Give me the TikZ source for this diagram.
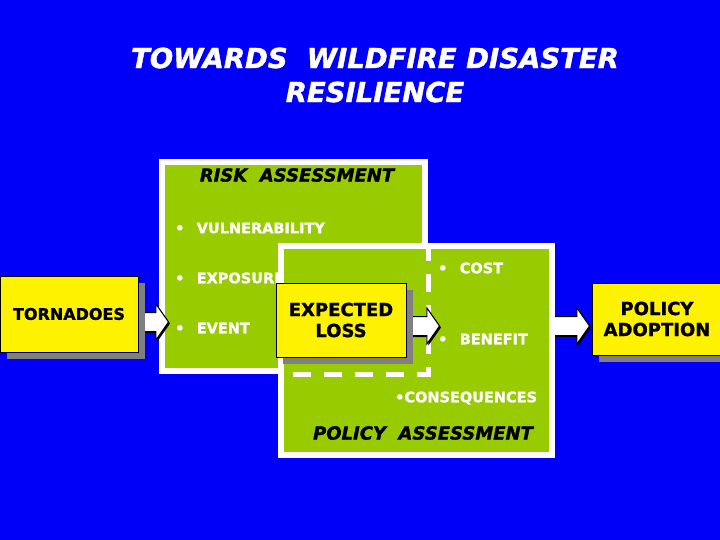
\documentclass[tikz,border=0pt]{standalone}
\usepackage{fontspec}
\setmainfont{DejaVu Sans}[BoldFeatures={FakeBold=1.2}, BoldItalicFeatures={FakeBold=1.5}]
\usetikzlibrary{shapes.arrows,shadows}

\definecolor{slideblue}{RGB}{0,0,250}
\definecolor{panelgreen}{RGB}{153,204,0}
\definecolor{shadegray}{RGB}{128,128,128}

\tikzset{
  panel/.style={draw=white, fill=panelgreen, line width=6pt, inner sep=0pt},
  yellowbox/.style={draw=black, fill=yellow, line width=0.8pt, align=center, inner sep=0pt,
    font=\bfseries\fontsize{18}{21}\selectfont,
    drop shadow={shadow xshift=7pt, shadow yshift=-7pt, fill=shadegray, opacity=1}},
  item/.style={anchor=west, inner sep=0pt, text=white, font=\bfseries\fontsize{14.5}{17}\selectfont},
  heading/.style={inner sep=0pt, font=\bfseries\itshape\fontsize{18}{21}\selectfont},
  blockarrow/.style={single arrow, draw=black, fill=white, line width=1pt,
    inner xsep=0pt, inner ysep=9pt, single arrow head extend=8.5pt,
    single arrow tip angle=110, anchor=tail,
    drop shadow={shadow xshift=1.5pt, shadow yshift=-1.5pt, fill=black, opacity=1}},
  dashline/.style={draw=white, line width=5pt, dash pattern=on 18pt off 13pt}
}

\begin{document}
\begin{tikzpicture}[x=1pt,y=-1pt]
\useasboundingbox (0,0) rectangle (720,540);
\fill[slideblue] (0,0) rectangle (720,540);

% title
\node[text=white, align=center, font=\bfseries\itshape\fontsize{27.5}{34}\selectfont] (title)
  at (375,75) {TOWARDS\ \ WILDFIRE DISASTER\\RESILIENCE};

% risk assessment panel
\node[panel, minimum width=263pt, minimum height=209pt] (riskbox) at (293.5,266.5) {};
\node[heading] (riskhead) at (297,175) {RISK\ \ ASSESSMENT};
\node[item] (vuln) at (175,228) {• \enskip VULNERABILITY};
\node[item] (expo) at (175,278) {• \enskip EXPOSURE};
\node[item] (event) at (175,328) {• \enskip EVENT};

% arrow into policy adoption (tail under the policy panel)
\node[blockarrow, minimum height=41pt] (outarrow) at (548,326) {};

% policy assessment panel
\node[panel, minimum width=271pt, minimum height=209pt] (policybox) at (416.5,350.5) {};
\draw[dashline] (riskbox.south east |- policybox.north) -- (riskbox.south east)
  -- (riskbox.south east -| policybox.west);
\node[item] (cost) at (438,268) {• \enskip COST};
\node[item] (benefit) at (438,339) {• \enskip BENEFIT};
\node[item] (conseq) at (395,398) {•CONSEQUENCES};
\node[heading] (policyhead) at (423,433) {POLICY\ \ ASSESSMENT};

% arrows
\node[blockarrow, minimum height=28pt] (inarrow) at (140,322) {};
\node[blockarrow, minimum height=39pt] (lossarrow) at (400,326) {};

% yellow boxes
\node[yellowbox, minimum width=138pt, minimum height=76pt,
  font=\bfseries\fontsize{16}{19}\selectfont] (tornado) at (69,314) {TORNADOES};
\node[yellowbox, minimum width=130pt, minimum height=74pt] (loss) at (341,320) {EXPECTED\\LOSS};
\node[yellowbox, minimum width=130pt, minimum height=72pt] (adoption) at (657,319) {POLICY\\ADOPTION};

\end{tikzpicture}
\end{document}
